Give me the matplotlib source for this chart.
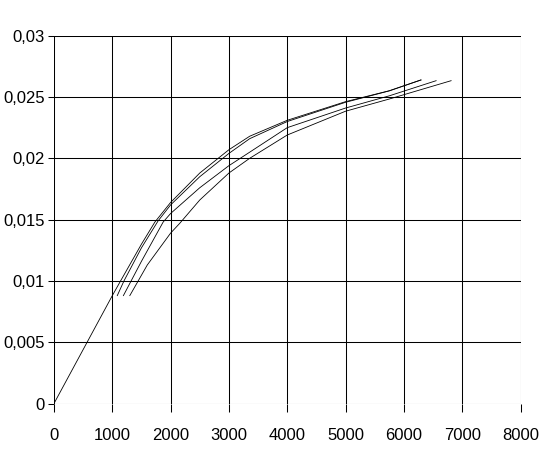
import matplotlib
matplotlib.use('Agg')
import matplotlib.pyplot as plt
from matplotlib.ticker import FuncFormatter

# curve data (x, y)
x1 = [0, 500, 1000, 1142, 1500, 1730, 2000, 2500, 3000, 3356, 4000, 5000, 5750, 6296]
y1 = [0, 0.0044, 0.0088, 0.0100, 0.0130, 0.0148, 0.0164, 0.0188, 0.0207, 0.0218, 0.0231, 0.02462, 0.02551, 0.02639]

x2 = [1085, 1200, 1500, 1786, 2000, 2500, 3000, 3356, 4000, 5000, 5750, 6290]
y2 = [0.0088, 0.0100, 0.0127, 0.0149, 0.0162, 0.0185, 0.0204, 0.0216, 0.0230, 0.02457, 0.0255, 0.02639]

x3 = [1190, 1500, 1872, 2000, 2500, 3000, 3356, 4000, 5000, 5753, 6553]
y3 = [0.0088, 0.0116, 0.0148, 0.0155, 0.0176, 0.0194, 0.0205, 0.0225, 0.0241, 0.0251, 0.02633]

x4 = [1300, 1600, 2000, 2157, 2500, 3000, 3356, 4000, 5000, 5753, 6810]
y4 = [0.0088, 0.0113, 0.0139, 0.0147, 0.0166, 0.0188, 0.0200, 0.0219, 0.02384, 0.02484, 0.02633]

x_ticks = [0, 1000, 2000, 3000, 4000, 5000, 6000, 7000, 8000]
y_ticks = [0, 0.005, 0.01, 0.015, 0.02, 0.025, 0.03]

plt.rcParams['font.family'] = ['Liberation Sans', 'DejaVu Sans']

fig = plt.figure(figsize=(5.48, 4.69), dpi=100)
ax = fig.add_axes([54 / 548, 1 - 403.5 / 469, 466.5 / 548, 367.8 / 469])

for xs, ys in [(x1, y1), (x2, y2), (x3, y3), (x4, y4)]:
    ax.plot(xs, ys, color='black', linewidth=0.6)

ax.set_xlim(0, 8000)
ax.set_ylim(0, 0.03)
ax.set_xticks(x_ticks)
ax.set_yticks(y_ticks)

# comma decimals as in the original
ax.yaxis.set_major_formatter(FuncFormatter(lambda v, p: ('%g' % v).replace('.', ',')))
ax.xaxis.set_major_formatter(FuncFormatter(lambda v, p: '%d' % v))

ax.grid(True, color='black', linewidth=0.75)
for s in ax.spines.values():
    s.set_visible(False)

ax.tick_params(axis='x', direction='out', length=5.5, width=0.75, pad=12, labelsize=12)
ax.tick_params(axis='y', direction='out', length=4.5, width=0.75, pad=2, labelsize=12)

fig.savefig('out.png', dpi=100)
